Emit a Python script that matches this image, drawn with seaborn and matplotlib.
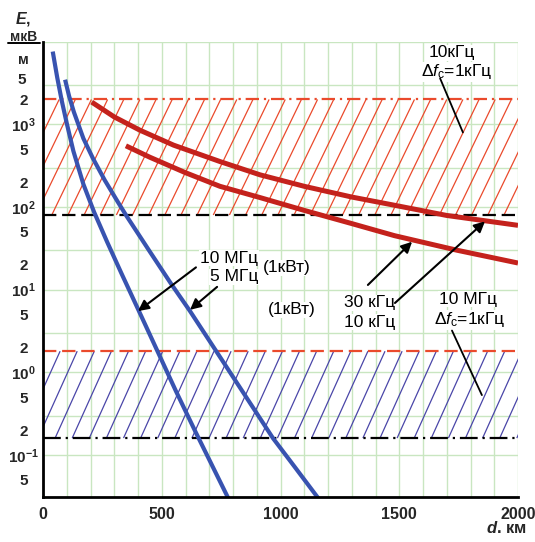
import numpy as np
import pandas as pd
import matplotlib
matplotlib.use("Agg")
import matplotlib.pyplot as plt
import matplotlib.ticker as mticker
from matplotlib.collections import LineCollection
from matplotlib.lines import Line2D
import seaborn as sns

# ---------------- data ----------------
# distance, km  /  field strength, µV/m
d_10mhz = [41, 60, 79, 100, 128, 170, 215, 270, 330, 408, 470, 560, 640, 780]
E_10mhz = [7600, 3670, 1930, 1030, 474, 189, 87, 37.8, 15.8, 5.2, 2.14, 0.59, 0.196, 0.030]

d_5mhz = [93, 110, 130, 170, 210, 260, 316, 352, 450, 540, 619, 720, 850, 968, 1060, 1170]
E_5mhz = [3470, 2190, 1410, 676, 389, 211, 114, 77.6, 28.8, 11.7, 5.5, 1.98, 0.53, 0.16, 0.0716, 0.0272]

d_30khz = [205, 300, 408, 550, 745, 914, 1100, 1300, 1480, 1700, 2000]
E_30khz = [1860, 1230, 850, 560, 355, 245, 178, 132, 105, 79, 60]

d_10khz = [349, 450, 600, 745, 914, 1100, 1300, 1480, 1743, 2000]
E_10khz = [550, 400, 260, 178, 130, 91, 63, 45, 30, 21]

# protection bands (lower / upper limits, µV/m)
band_khz = [80, 2000]      # 10 kHz, Δfc = 1 kHz
band_mhz = [0.16, 1.8]     # 10 MHz, Δfc = 1 kHz

x_ticks = [0, 500, 1000, 1500, 2000]
y_lim = [0.031, 1e4]
x_lim = [0, 2000]

# ---------------- style ----------------
sns.set_theme(style="white")
plt.rcParams["font.family"] = ["Liberation Sans", "DejaVu Sans"]
plt.rcParams["mathtext.fontset"] = "custom"
plt.rcParams["mathtext.rm"] = "Liberation Sans"
plt.rcParams["mathtext.it"] = "Liberation Sans:italic"
plt.rcParams["mathtext.bf"] = "Liberation Sans:bold"
plt.rcParams["mathtext.bfit"] = "Liberation Sans:italic:bold"

BLUE = "#3853b0"
RED = "#c4221c"
HATCH_RED = "#ea4a2c"
HATCH_BLUE = "#4a46a8"
GRID = "#c9e6c1"

W, H = 535, 542
fig = plt.figure(figsize=(W / 100, H / 100), dpi=100)
fig.patch.set_facecolor("white")
ax = fig.add_axes([43 / W, 1 - 497 / H, 475 / W, (497 - 41.7) / H])
ax.set_facecolor("white")
ax.set_yscale("log")
ax.set_xlim(*x_lim)
ax.set_ylim(*y_lim)

# ticks & grid
ax.xaxis.set_major_locator(mticker.FixedLocator(x_ticks))
ax.xaxis.set_minor_locator(mticker.MultipleLocator(100))
maj_y = [m * 10.0 ** k for k in range(-2, 5) for m in (1, 3)]
maj_y = [v for v in maj_y if y_lim[0] <= v <= y_lim[1] * 1.001]
min_y = [m * 10.0 ** k for k in range(-2, 4) for m in (2, 5)]
min_y = [v for v in min_y if y_lim[0] <= v <= y_lim[1]]
ax.yaxis.set_major_locator(mticker.FixedLocator(maj_y))
ax.yaxis.set_minor_locator(mticker.FixedLocator(min_y))


def maj_fmt(v, pos):
    k = int(round(np.log10(v)))
    if abs(v - 10.0 ** k) / v < 1e-6 and k < 4:
        return r"$\mathbf{10^{%d}}$" % k
    return ""


def min_fmt(v, pos):
    k = int(np.floor(np.log10(v) + 1e-9))
    m = int(round(v / 10.0 ** k))
    if k == 3 and m == 5:
        return ""
    return str(m)


ax.yaxis.set_major_formatter(mticker.FuncFormatter(maj_fmt))
ax.yaxis.set_minor_formatter(mticker.FuncFormatter(min_fmt))

ax.grid(True, which="both", axis="x", color=GRID, lw=1.0, zorder=0)
ax.grid(True, which="major", axis="y", color=GRID, lw=1.0, zorder=0)
ax.set_axisbelow(True)

for s in ["top", "right"]:
    ax.spines[s].set_visible(False)
for s in ["left", "bottom"]:
    ax.spines[s].set_color("black")
    ax.spines[s].set_linewidth(2.0)
    ax.spines[s].set_zorder(6)

ax.tick_params(axis="both", which="both", direction="inout", color="black",
               width=2, length=6)
ax.tick_params(axis="x", which="minor", length=0)
ax.tick_params(axis="x", which="major", labelsize=11.5, pad=4)
ax.tick_params(axis="y", which="both", labelsize=11, pad=11)
for lbl in ax.get_xticklabels():
    lbl.set_fontweight("bold")
for lbl in ax.get_yticklabels(which="both"):
    lbl.set_fontweight("bold")
    lbl.set_horizontalalignment("center")


# ---------------- hatched bands ----------------
def hatch(lo, hi, spacing, shift, color):
    starts = np.arange(-shift - spacing, x_lim[1] + spacing, spacing)
    segs = [[(x, lo), (x + shift, hi)] for x in starts]
    ax.add_collection(LineCollection(segs, colors=color, lw=0.9, zorder=1))


hatch(band_khz[0], band_khz[1], 68, 235, HATCH_RED)
hatch(band_mhz[0], band_mhz[1], 72, 165, HATCH_BLUE)

ax.axhline(band_khz[1], color=HATCH_RED, lw=1.6, ls=(0, (6, 2.2, 1, 2.2)), zorder=3)
ax.axhline(band_khz[0], color="black", lw=1.6, ls=(0, (6, 2.6)), zorder=3)
ax.axhline(band_mhz[1], color=HATCH_RED, lw=1.6, ls=(0, (6, 2.6)), zorder=3)
ax.axhline(band_mhz[0], color="black", lw=1.6, ls=(0, (8, 2.2, 1, 2.2)), zorder=3)

# ---------------- curves ----------------
curves = [
    (d_10mhz, E_10mhz, BLUE, 3.0),
    (d_5mhz, E_5mhz, BLUE, 3.0),
    (d_30khz, E_30khz, RED, 3.6),
    (d_10khz, E_10khz, RED, 3.6),
]
for dd, ee, col, lw in curves:
    df = pd.DataFrame({"d": dd, "E": ee})
    sns.lineplot(data=df, x="d", y="E", ax=ax, color=col, lw=lw,
                 sort=False, estimator=None, zorder=4,
                 solid_capstyle="butt", solid_joinstyle="round")
ax.set_xlabel("")
ax.set_ylabel("")

# ---------------- annotations ----------------
txt = dict(fontsize=12.5, color="black", zorder=7)
box = dict(facecolor="white", edgecolor="none", pad=0.5)

ax.text(1722, 7300, "10кГц", ha="center", va="center", bbox=box, **txt)
ax.text(1743, 4300, "Δ$\\mathit{f}_{\\mathrm{c}}$=1кГц", ha="center", va="center", bbox=box, **txt)
ax.plot([1672, 1768], [3600, 800], color="black", lw=1.3, zorder=7)

ax.text(905, 24, "10 МГц", ha="right", va="center", bbox=box, **txt)
ax.text(926, 18.3, "(1кВт)", ha="left", va="center", bbox=box, **txt)
ax.text(905, 14.3, "5 МГц", ha="right", va="center", bbox=box, **txt)
ax.text(947, 5.7, "(1кВт)", ha="left", va="center", bbox=box, **txt)

ax.text(1482, 6.9, "30 кГц", ha="right", va="center", bbox=box, **txt)
ax.text(1482, 4.06, "10 кГц", ha="right", va="center", bbox=box, **txt)

ax.text(1789, 7.7, "10 МГц", ha="center", va="center", bbox=box, **txt)
ax.text(1798, 4.3, "Δ$\\mathit{f}_{\\mathrm{c}}$=1кГц", ha="center", va="center", bbox=box, **txt)
ax.plot([1722, 1848], [3.2, 0.53], color="black", lw=1.3, zorder=7)

arrow = dict(arrowstyle="-|>", color="black", lw=1.5, mutation_scale=16,
             shrinkA=0, shrinkB=0)
ax.annotate("", xy=(400, 5.5), xytext=(644, 18.6), arrowprops=arrow, zorder=7)
ax.annotate("", xy=(619, 5.7), xytext=(733, 10.8), arrowprops=arrow, zorder=7)
ax.annotate("", xy=(1554, 38), xytext=(1368, 11.4), arrowprops=arrow, zorder=7)
ax.annotate("", xy=(1861, 67), xytext=(1482, 6.9), arrowprops=arrow, zorder=7)

# "5" label of the top decade (placed as in the original)
ax.text(-0.044, 3.4e3, "5", transform=ax.get_yaxis_transform(), ha="center",
        va="center", fontsize=11, fontweight="bold", clip_on=False)

# axis titles
fig.text(23 / W, 1 - 24 / H, r"$\mathbfit{E}$,", ha="center", va="baseline",
         fontsize=11.5, fontweight="bold")
fig.text(24 / W, 1 - 41 / H, "мкВ", ha="center", va="baseline",
         fontsize=10, fontweight="bold")
fig.add_artist(Line2D([8 / W, 40 / W], [1 - 43 / H, 1 - 43 / H],
                      color="black", lw=1.4))
fig.text(23 / W, 1 - 60 / H, "м", ha="center", va="center",
         fontsize=10.5, fontweight="bold")
fig.text(527 / W, 1 - 528 / H, r"$\mathbfit{d}$. км", ha="right", va="center",
         fontsize=12, fontweight="bold")

fig.savefig("out.png", dpi=100, facecolor="white")
